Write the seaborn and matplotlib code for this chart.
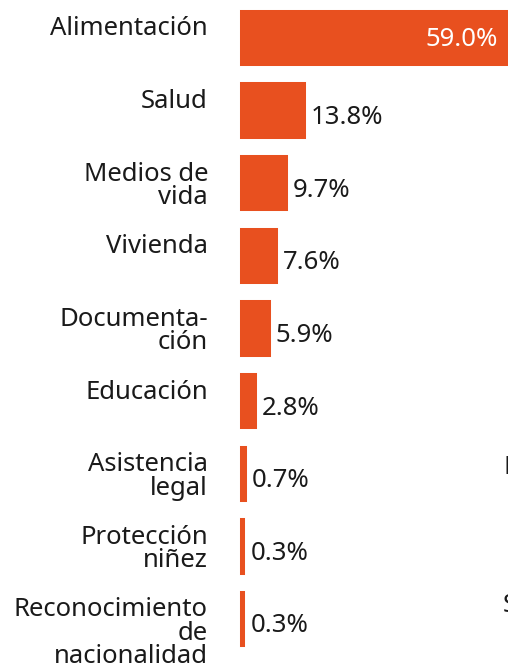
import matplotlib
matplotlib.use("Agg")
from matplotlib import pyplot as plt
import seaborn as sns
import pandas as pd

# categories (display text with line breaks) and shares in %
categories = ["Alimentación", "Salud", "Medios de\nvida", "Vivienda",
              "Documenta-\nción", "Educación", "Asistencia\nlegal",
              "Protección\nniñez", "Reconocimiento\nde\nnacionalidad"]
values = [59.0, 13.8, 9.7, 7.6, 5.9, 2.8, 0.7, 0.3, 0.3]
value_labels = ["59.0%", "13.8%", "9.7%", "7.6%", "5.9%", "2.8%", "0.7%", "0.3%", "0.3%"]

bar_color = "#E8501F"
text_color = "#1a1a1a"
fs = 18.5

sns.set_theme(style="white")
plt.rcParams["font.family"] = ["Noto Sans", "DejaVu Sans"]

df = pd.DataFrame({"cat": categories, "val": values})

fig = plt.figure(figsize=(5.08, 6.63), dpi=100)
ax = fig.add_axes([242 / 508, 0, 1 - 242 / 508, 1])

# bars get a stroke in the same colour so tiny shares stay visible
sns.barplot(data=df, x="val", y="cat", orient="h", color=bar_color,
            width=0.72, saturation=1, edgecolor=bar_color, linewidth=2.9,
            ax=ax)
for p in ax.patches:
    p.set_clip_on(False)

ax.set_xlim(0, 59.1)
ax.set_ylim(8.606, -0.523)
ax.axis("off")

for i, (cat, v, lab) in enumerate(zip(categories, values, value_labels)):
    # category label, right aligned left of the bars
    ax.annotate(cat, xy=(0, i - 0.38), xycoords=("axes fraction", "data"),
                xytext=(-34, -6), textcoords="offset pixels",
                ha="right", va="top", fontsize=fs, color=text_color,
                linespacing=0.92, annotation_clip=False)
    if i == 0:
        ax.annotate(lab, xy=(1, i), xycoords=("axes fraction", "data"),
                    xytext=(-10, -2), textcoords="offset pixels",
                    ha="right", va="center", fontsize=fs, color="white")
    else:
        ax.annotate(lab, xy=(v, i), xycoords="data",
                    xytext=(7, -7), textcoords="offset pixels",
                    ha="left", va="center", fontsize=fs, color=text_color)

# edges of neighbouring labels cut off at the right border
fig.text(503 / 508, 1 - 468 / 663, "F", fontsize=fs, color=text_color,
         ha="left", va="center")
fig.text(503 / 508, 1 - 606 / 663, "S", fontsize=fs, color=text_color,
         ha="left", va="center")

fig.savefig("out.png", dpi=100)
